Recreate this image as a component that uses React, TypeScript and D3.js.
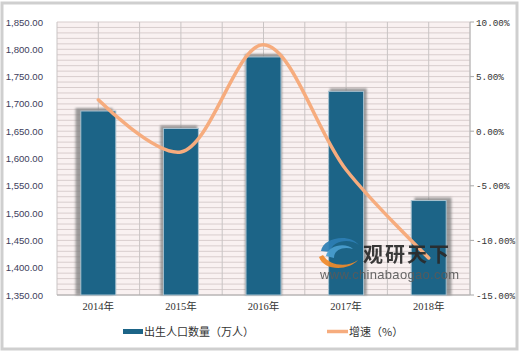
import React from "react";
import * as d3 from "d3";

const years = ["2014年", "2015年", "2016年", "2017年", "2018年"];
const births = [1687, 1655, 1786, 1723, 1523];
const growth = [2.87, -1.9, 7.92, -3.53, -11.61];
const leftTicks = [1350, 1400, 1450, 1500, 1550, 1600, 1650, 1700, 1750, 1800, 1850];
const rightTicks = [10, 5, 0, -5, -10, -15];
const legendLabels = ["出生人口数量（万人）", "增速（%）"];

const W = 520, H = 354;
const PL = 57, PR = 470, PT = 22, PB = 295;

export default function App() {
  const x = d3.scaleBand<string>().domain(years).range([PL, PR]).paddingInner(0).paddingOuter(0);
  const yL = d3.scaleLinear().domain([1350, 1850]).range([PB, PT]);
  const yR = d3.scaleLinear().domain([-15, 10]).range([PB, PT]);
  const bw = x.bandwidth();
  const barW = 35;
  const fmtL = d3.format(",.2f");
  const minor = d3.range(1350, 1851, 10);
  const vLines = d3.range(0, 11).map((i) => PL + (i * bw) / 2);
  const center = (PL + PR) / 2;

  const line = d3
    .line<number>()
    .x((_, i) => (x(years[i]) as number) + bw / 2)
    .y((d) => yR(d))
    .curve(d3.curveCatmullRom.alpha(0.5));

  return (
    <svg width={W} height={H} style={{ position: "absolute", left: 0, top: 0 }}>
      <defs>
        <filter id="blur" x="-20%" y="-20%" width="140%" height="140%">
          <feGaussianBlur stdDeviation="1.3" />
        </filter>
      </defs>
      <rect x={0} y={0} width={W} height={H} fill="#fff" />
      <rect x={2} y={3} width={515} height={346} fill="#fff" stroke="#cfcfcf" strokeWidth={3} />
      {/* plot background */}
      <rect x={PL} y={PT} width={PR - PL} height={PB - PT} fill="#f9f1f1" />
      {minor.map((v) => (
        <line key={"h" + v} x1={PL} x2={PR} y1={yL(v)} y2={yL(v)} stroke="#d8cdcd" strokeWidth={1} />
      ))}
      {vLines.map((vx, i) => (
        <line key={"v" + i} x1={vx} x2={vx} y1={PT} y2={PB} stroke="#c9c4c4" strokeWidth={1} />
      ))}
      <line x1={PL} x2={PR} y1={PB} y2={PB} stroke="#a8a8a8" strokeWidth={1} />
      <line x1={PR} x2={PR} y1={PT} y2={PB} stroke="#b8b8b8" strokeWidth={1} />
      {rightTicks.map((t) => (
        <line key={"rt" + t} x1={PR} x2={PR + 4} y1={yR(t)} y2={yR(t)} stroke="#a8a8a8" />
      ))}
      {/* bars */}
      {births.map((b, i) => {
        const cx = (x(years[i]) as number) + bw / 2;
        const dx = (cx - center) * 0.026;
        const top = yL(b);
        return (
          <g key={"b" + i}>
            <rect
              x={cx - barW / 2 + dx - 1}
              y={top - 3}
              width={barW + 2}
              height={PB - top + 3}
              fill="#7d7d7d"
              opacity={0.75}
              filter="url(#blur)"
            />
            <rect
              x={cx - barW / 2}
              y={top}
              width={barW}
              height={PB - top}
              fill="#1c6487"
              stroke="#a9c2d0"
              strokeWidth={1}
            />
          </g>
        );
      })}
      {/* line */}
      <path d={line(growth) || ""} fill="none" stroke="#f6ac7e" strokeWidth={3.5} strokeLinecap="round" />
      {/* watermark */}
      <g opacity={0.92}>
        <path d="M 321 251 C 323 237, 350 233, 359 245 C 350 238, 332 240, 330 252 Z" fill="#2d7fb5" />
        <path d="M 326 256 C 328 245, 346 242, 353 249 C 344 246, 334 249, 334 258 Z" fill="#4a9fd0" />
        <path d="M 319 257 C 323 270, 347 272, 358 260 C 349 267, 330 267, 323 255 Z" fill="#f08a2a" />
        <text x={363} y={262} fontFamily="Noto Sans CJK SC" fontWeight={700} fontSize={20} fill="#2a2a2a" letterSpacing={2}>
          观研天下
        </text>
        <text x={320} y={279} fontFamily="Liberation Sans, Arial" fontSize={13} fill="#5a5a5a" letterSpacing={0.3}>
          www.chinabaogao.com
        </text>
      </g>
      {/* left axis labels */}
      {leftTicks.map((t) => (
        <text
          key={"l" + t}
          x={43}
          y={yL(t) + 3.5}
          textAnchor="end"
          fontFamily="Liberation Sans, Arial"
          fontSize={9.6}
          fill="#3d3d5c"
        >
          {fmtL(t)}
        </text>
      ))}
      {/* right axis labels */}
      {rightTicks.map((t) => (
        <text
          key={"r" + t}
          x={476}
          y={yR(t) + 3.5}
          fontFamily="Liberation Mono, DejaVu Sans Mono"
          fontSize={9.3}
          fill="#333"
        >
          {t.toFixed(2) + "%"}
        </text>
      ))}
      {/* x labels */}
      {years.map((y) => (
        <text
          key={"x" + y}
          x={(x(y) as number) + bw / 2}
          y={310}
          textAnchor="middle"
          fontFamily="Liberation Serif, Noto Sans CJK SC"
          fontSize={10.5}
          fill="#333"
        >
          {y}
        </text>
      ))}
      {/* legend */}
      <rect x={123} y={329} width={20} height={5} fill="#1c6487" />
      <text x={144} y={335.5} fontFamily="Noto Sans CJK SC" fontSize={11} fill="#333">
        {legendLabels[0]}
      </text>
      <line x1={327} x2={348} y1={331.5} y2={331.5} stroke="#f6ac7e" strokeWidth={3.5} />
      <text x={349} y={335.5} fontFamily="Noto Sans CJK SC" fontSize={11} fill="#333">
        {legendLabels[1]}
      </text>
    </svg>
  );
}
